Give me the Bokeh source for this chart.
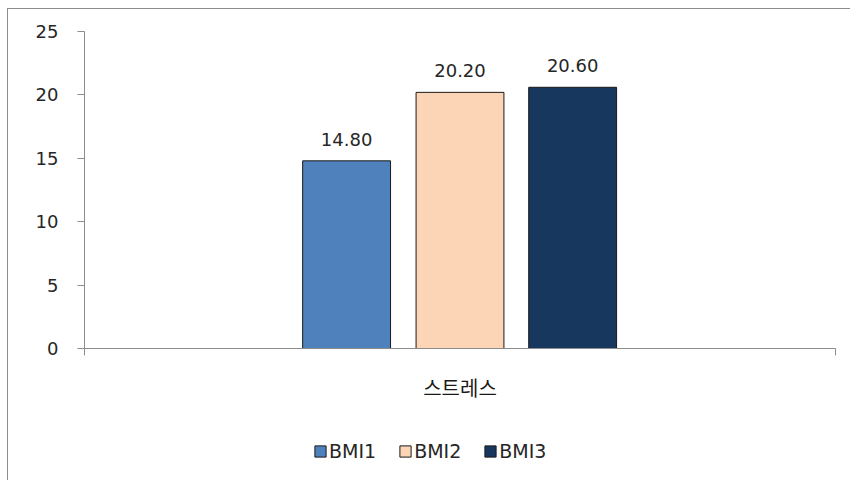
from bokeh.plotting import figure
from bokeh.layouts import column
from bokeh.models import ColumnDataSource, Range1d, FixedTicker, LabelSet, Legend, LegendItem
from bokeh.core.properties import value
from bokeh.embed import file_html
from bokeh.resources import INLINE

categories = ["스트레스"]
series = ["BMI1", "BMI2", "BMI3"]
values = [14.80, 20.20, 20.60]
colors = ["#4F81BD", "#FBD5B5", "#17375E"]
y_ticks = [0, 5, 10, 15, 20, 25]

offsets = [-0.151, 0.0, 0.150]
bar_w = 0.117
FS = "18px"

p = figure(width=843, height=420, output_backend="svg", toolbar_location=None,
           x_range=Range1d(0, len(categories)), y_range=Range1d(0, 25),
           min_border_left=76, min_border_right=16, min_border_top=22, min_border_bottom=81)
p.outline_line_color = None
p.xgrid.visible = False
p.ygrid.visible = False
p.background_fill_color = "white"

xs = [0.5 + o for o in offsets]
src = ColumnDataSource(dict(x=xs, top=values, color=colors, name=series,
                            label=["%.2f" % v for v in values]))
for i, s in enumerate(series):
    p.vbar(x=[xs[i]], top=[values[i]], width=bar_w, fill_color=colors[i],
           line_color="#1a1a1a", line_width=1)

labels = LabelSet(x="x", y="top", text="label", source=src, text_align="center",
                  text_baseline="alphabetic", y_offset=15, text_font_size=FS,
                  text_color="#262626", text_font=value("DejaVu Sans"))
p.add_layout(labels)

# y axis
ya = p.yaxis[0]
ya.ticker = FixedTicker(ticks=y_ticks)
ya.axis_line_color = "#8c8c8c"
ya.major_tick_line_color = "#8c8c8c"
ya.major_tick_out = 7
ya.major_tick_in = 0
ya.minor_tick_line_color = None
ya.major_label_text_font_size = FS
ya.major_label_text_font = "DejaVu Sans"
ya.major_label_text_color = "#262626"
ya.major_label_standoff = 19

# x axis
xa = p.xaxis[0]
xa.ticker = FixedTicker(ticks=[0, len(categories)])
xa.major_label_overrides = {0: "", 1: ""}
xa.major_label_text_font_size = "1px"
xa.axis_line_color = "#8c8c8c"
xa.major_tick_line_color = "#8c8c8c"
xa.major_tick_out = 7
xa.major_tick_in = 0
xa.minor_tick_line_color = None
xa.axis_label = categories[0]
xa.axis_label_text_font = "Noto Sans CJK KR"
xa.axis_label_text_font_size = "20px"
xa.axis_label_text_font_style = "normal"
xa.axis_label_text_color = "#1a1a1a"
xa.axis_label_standoff = 17

# legend strip below the plot (bars lie outside its visible range; only the legend shows)
p2 = figure(width=843, height=52, output_backend="svg", toolbar_location=None,
            x_axis_type=None, y_axis_type=None, min_border=0,
            x_range=Range1d(0, 1), y_range=Range1d(100, 101))
p2.outline_line_color = None
p2.xgrid.visible = False
p2.ygrid.visible = False
leg_r = []
for i, s in enumerate(series):
    leg_r.append(p2.vbar(x=[xs[i]], top=[values[i]], width=bar_w, fill_color=colors[i],
                         line_color="#1a1a1a", line_width=1))
legend = Legend(items=[LegendItem(label=s, renderers=[leg_r[i]]) for i, s in enumerate(series)],
                orientation="horizontal", location=(229, 19),
                label_text_font="DejaVu Sans", label_text_font_size="19px",
                label_text_color="#262626", glyph_width=14, glyph_height=14,
                spacing=22, label_standoff=2, border_line_color=None,
                background_fill_alpha=0, padding=0, margin=0)
p2.add_layout(legend)

layout = column(p, p2, spacing=0,
                styles={"margin-left": "7px", "margin-top": "8px",
                        "border-top": "1px solid #8c8c8c", "border-left": "1px solid #8c8c8c"})

open("out.html", "w").write(file_html(layout, INLINE))
